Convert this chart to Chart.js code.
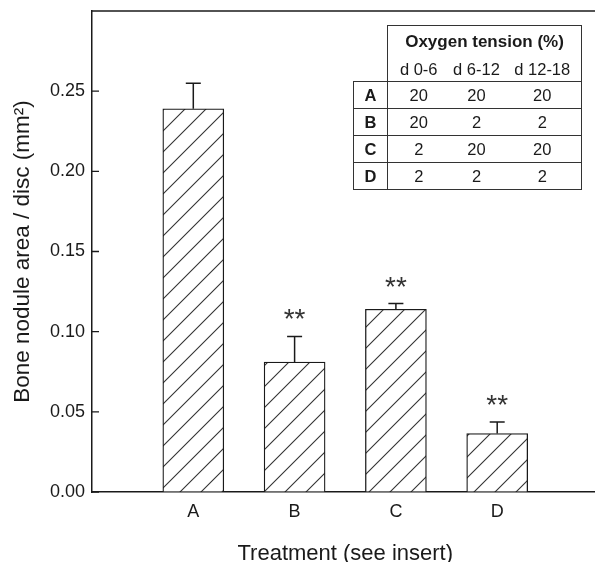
<!DOCTYPE html>
<html lang="en">
<head>
    <meta charset="UTF-8">
    <title>Bone nodule area / disc</title>
    <script src="https://cdn.jsdelivr.net/npm/chart.js"></script>
    <style>
        body {
            margin: 0;
            overflow: hidden;
            background: #fff;
        }
        .wrap {
            position: relative;
            width: 600px;
            height: 562px;
        }
        #insert {
            position: absolute;
            left: 353px;
            top: 25px;
            border-collapse: collapse;
            font-family: Arial, 'Liberation Sans', sans-serif;
            font-size: 16.5px;
            color: #1a1a1a;
            table-layout: fixed;
        }
        #insert td, #insert th {
            padding: 0;
            text-align: center;
            vertical-align: middle;
            line-height: 1;
        }
        #insert th {
            font-weight: bold;
            font-size: 17px;
            border: 1px solid #333;
            border-bottom: none;
        }
        #insert .period td {
            border-left: none;
            border-right: none;
            border-bottom: 1px solid #333;
        }
        #insert .period td:first-child { border-left: 1px solid #333; }
        #insert .period td:last-child { border-right: 1px solid #333; }
        #insert .data td {
            border: 1px solid #333;
            border-left: none;
            border-right: none;
        }
        #insert .data td:first-child {
            font-weight: bold;
            border-left: 1px solid #333;
            border-right: 1px solid #333;
        }
        #insert .data td:last-child { border-right: 1px solid #333; }
    </style>
</head>
<body>

<div class="wrap">
    <canvas id="noduleChart" width="600" height="562"></canvas>
    <table id="insert">
        <colgroup>
            <col style="width:34px">
            <col style="width:62px">
            <col style="width:54px">
            <col style="width:78px">
        </colgroup>
        <tbody id="insertBody"></tbody>
    </table>
</div>

<script>
    // Datos
    const categories = ['A', 'B', 'C', 'D'];
    const noduleArea = [0.239, 0.081, 0.114, 0.0365];
    const noduleErr = [0.016, 0.016, 0.0035, 0.0072];
    const markers = ['', '**', '**', '**'];
    const yTickValues = [0, 0.05, 0.10, 0.15, 0.20, 0.25];
    const yTickLabels = ['0.00', '0.05', '0.10', '0.15', '0.20', '0.25'];

    // Tabla insertada: tensión de oxígeno por periodo
    const periods = ['d 0-6', 'd 6-12', 'd 12-18'];
    const oxygenA = [20, 20, 20];
    const oxygenB = [20, 2, 2];
    const oxygenC = [2, 20, 20];
    const oxygenD = [2, 2, 2];

    const fontFamily = "Arial, 'Liberation Sans', sans-serif";
    const ink = '#1a1a1a';

    function buildInsert() {
        const body = document.getElementById('insertBody');
        let html = '<tr style="height:32px"><td rowspan="2"></td><th colspan="3">Oxygen tension (%)</th></tr>';
        html += '<tr class="period" style="height:24px">' + periods.map(p => `<td>${p}</td>`).join('') + '</tr>';
        [oxygenA, oxygenB, oxygenC, oxygenD].forEach((row, i) => {
            html += `<tr class="data" style="height:27px"><td>${categories[i]}</td>` +
                row.map(v => `<td>${v}</td>`).join('') + '</tr>';
        });
        body.innerHTML = html;
    }
    buildInsert();

    // Patrón rayado diagonal para las barras
    function makeHatch() {
        const s = 21;
        const c = document.createElement('canvas');
        c.width = s;
        c.height = s;
        const g = c.getContext('2d');
        g.fillStyle = '#fff';
        g.fillRect(0, 0, s, s);
        g.strokeStyle = '#333';
        g.lineWidth = 1.1;
        g.beginPath();
        g.moveTo(0, s); g.lineTo(s, 0);
        g.moveTo(-2, 2); g.lineTo(2, -2);
        g.moveTo(s - 2, s + 2); g.lineTo(s + 2, s - 2);
        g.stroke();
        return g.createPattern(c, 'repeat');
    }

    // Marco superior, marcas hacia dentro, barras de error y asteriscos
    const extrasPlugin = {
        id: 'extras',
        afterDraw(chart) {
            const ctx = chart.ctx;
            const area = chart.chartArea;
            const y = chart.scales.y;
            ctx.save();
            ctx.strokeStyle = ink;
            ctx.lineWidth = 1.5;
            ctx.beginPath();
            ctx.moveTo(area.left - 0.75, area.top);
            ctx.lineTo(area.right + 2, area.top);
            ctx.stroke();

            ctx.lineWidth = 1.3;
            ctx.beginPath();
            y.ticks.forEach(t => {
                const py = y.getPixelForValue(t.value);
                ctx.moveTo(area.left, py);
                ctx.lineTo(area.left + 7, py);
            });
            ctx.stroke();

            const meta = chart.getDatasetMeta(0);
            ctx.lineWidth = 1.5;
            ctx.font = '28px ' + fontFamily;
            ctx.fillStyle = '#333';
            ctx.textAlign = 'center';
            ctx.textBaseline = 'alphabetic';
            categories.forEach((cat, i) => {
                const bar = meta.data[i + 1];
                const top = y.getPixelForValue(noduleArea[i] + noduleErr[i]);
                ctx.beginPath();
                ctx.moveTo(bar.x, bar.y);
                ctx.lineTo(bar.x, top);
                ctx.moveTo(bar.x - 7.5, top);
                ctx.lineTo(bar.x + 7.5, top);
                ctx.stroke();
                if (markers[i]) {
                    const m = ctx.measureText(markers[i]);
                    const center = top - 22;
                    const base = center + (m.actualBoundingBoxAscent - m.actualBoundingBoxDescent) / 2;
                    ctx.fillText(markers[i], bar.x, base);
                }
            });
            ctx.restore();
        }
    };

    const ctx = document.getElementById('noduleChart').getContext('2d');
    const chart = new Chart(ctx, {
        type: 'bar',
        data: {
            labels: ['', ...categories, ''],
            datasets: [{
                data: [null, ...noduleArea, null],
                backgroundColor: makeHatch(),
                borderColor: ink,
                borderWidth: 1.3,
                barThickness: 61
            }]
        },
        options: {
            responsive: false,
            animation: false,
            layout: {
                padding: { top: 11, right: 1.5, left: 0, bottom: 0 }
            },
            plugins: {
                legend: { display: false },
                tooltip: { enabled: false }
            },
            scales: {
                x: {
                    offset: false,
                    grid: { drawOnChartArea: false, drawTicks: false },
                    border: { display: true, color: ink, width: 1.5 },
                    ticks: {
                        font: { family: fontFamily, size: 18 },
                        color: ink,
                        padding: 9,
                        autoSkip: false,
                        maxRotation: 0
                    },
                    title: {
                        display: true,
                        text: 'Treatment (see insert)',
                        font: { family: fontFamily, size: 22, lineHeight: 1 },
                        color: ink,
                        padding: { top: 0, bottom: -3 }
                    },
                    afterFit: scale => {
                        scale.height = 70;
                        scale.paddingLeft = 0;
                        scale.paddingRight = 0;
                    }
                },
                y: {
                    min: 0,
                    max: 0.3,
                    afterBuildTicks: scale => {
                        scale.ticks = yTickValues.map(v => ({ value: v }));
                    },
                    grid: { drawOnChartArea: false, drawTicks: false },
                    border: { display: true, color: ink, width: 1.5 },
                    ticks: {
                        callback: (value, index) => yTickLabels[index],
                        font: { family: fontFamily, size: 18 },
                        color: ink,
                        padding: 7
                    },
                    title: {
                        display: true,
                        text: 'Bone nodule area / disc (mm²)',
                        font: { family: fontFamily, size: 22.5, lineHeight: 1 },
                        color: ink,
                        padding: { top: 12, bottom: 0 }
                    },
                    afterFit: scale => {
                        scale.width = 92;
                        scale.paddingTop = 0;
                        scale.paddingBottom = 0;
                    }
                }
            }
        },
        plugins: [extrasPlugin]
    });
</script>

</body>
</html>
